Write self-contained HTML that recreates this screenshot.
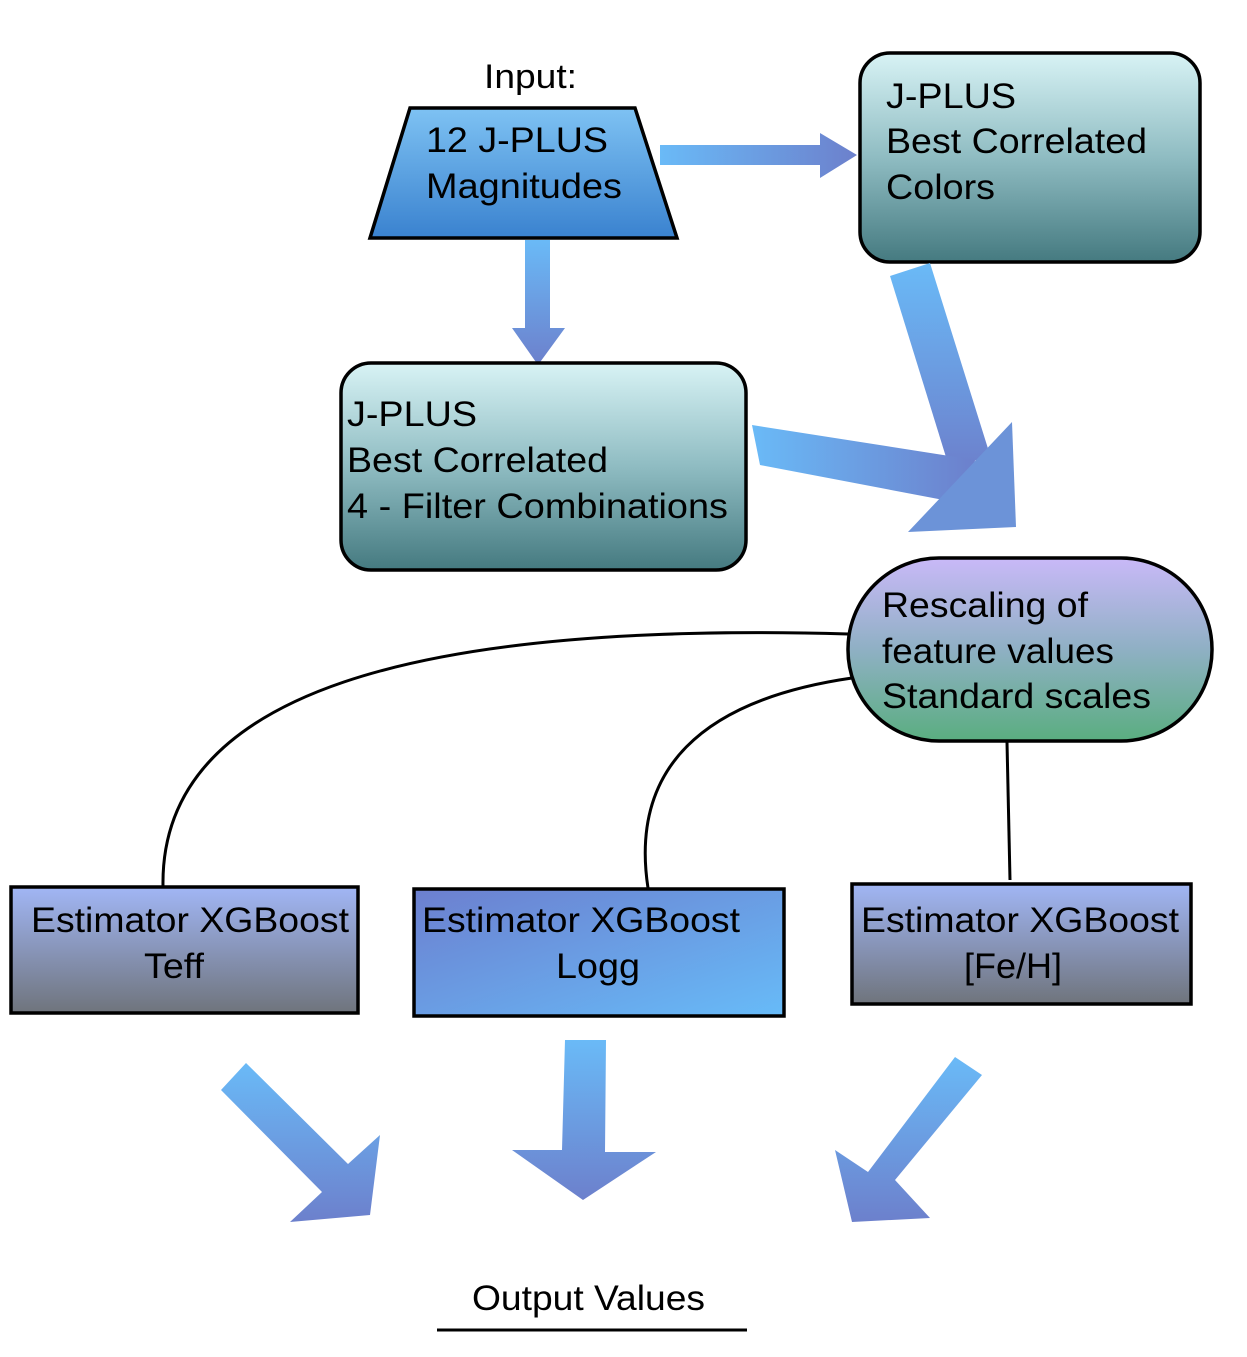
<!DOCTYPE html>
<html><head><style>body{margin:0;background:#fff}svg{display:block}text{font-family:"Liberation Sans",sans-serif;fill:#000}</style></head>
<body>
<svg width="1247" height="1357" viewBox="0 0 1247 1357" xmlns="http://www.w3.org/2000/svg">
<defs>
<linearGradient id="tr" x1="0" y1="0" x2="0" y2="1"><stop offset="0" stop-color="#7ec2f3"/><stop offset="1" stop-color="#3a82cf"/></linearGradient>
<linearGradient id="teal" x1="0" y1="0" x2="0" y2="1"><stop offset="0" stop-color="#d8f3f5"/><stop offset="0.5" stop-color="#8fbcc2"/><stop offset="1" stop-color="#457a80"/></linearGradient>
<linearGradient id="oval" x1="0" y1="0" x2="0" y2="1"><stop offset="0" stop-color="#c9b9f8"/><stop offset="0.5" stop-color="#8fb0c4"/><stop offset="1" stop-color="#5aae80"/></linearGradient>
<linearGradient id="gb" x1="0" y1="0" x2="0" y2="1"><stop offset="0" stop-color="#a1b6f5"/><stop offset="1" stop-color="#6f747c"/></linearGradient>
<linearGradient id="mb" x1="0" y1="0" x2="1" y2="1"><stop offset="0" stop-color="#6c7fcf"/><stop offset="1" stop-color="#67bbf8"/></linearGradient>
<linearGradient id="av" x1="0" y1="0" x2="0" y2="1"><stop offset="0" stop-color="#6abaf7"/><stop offset="1" stop-color="#6c80cc"/></linearGradient>
<linearGradient id="ah" x1="0" y1="0" x2="1" y2="0"><stop offset="0" stop-color="#6abaf7"/><stop offset="1" stop-color="#6c80cc"/></linearGradient>
</defs>
<text x="484" y="88" font-size="34" textLength="93" lengthAdjust="spacingAndGlyphs">Input:</text>
<polygon points="410,108 635,108 677,238 370,238" fill="url(#tr)" stroke="#000" stroke-width="3.5"/>
<text x="426" y="152" font-size="35" textLength="182" lengthAdjust="spacingAndGlyphs">12 J-PLUS</text>
<text x="426" y="198" font-size="35" textLength="196" lengthAdjust="spacingAndGlyphs">Magnitudes</text>
<polygon points="660,145 820,145 820,133 857,155 820,178 820,165 660,165" fill="url(#ah)"/>
<polygon points="525,240 550,240 550,328 565,328 538,365 512,328 525,328" fill="url(#av)"/>
<rect x="860" y="53" width="340" height="209" rx="30" fill="url(#teal)" stroke="#000" stroke-width="3.5"/>
<text x="886" y="108" font-size="35" textLength="130" lengthAdjust="spacingAndGlyphs">J-PLUS</text>
<text x="886" y="153" font-size="35" textLength="261" lengthAdjust="spacingAndGlyphs">Best Correlated</text>
<text x="886" y="199" font-size="35" textLength="109" lengthAdjust="spacingAndGlyphs">Colors</text>
<rect x="341" y="363" width="405" height="207" rx="30" fill="url(#teal)" stroke="#000" stroke-width="3.5"/>
<text x="347" y="426" font-size="35" textLength="130" lengthAdjust="spacingAndGlyphs">J-PLUS</text>
<text x="347" y="472" font-size="35" textLength="261" lengthAdjust="spacingAndGlyphs">Best Correlated</text>
<text x="347" y="518" font-size="35" textLength="381" lengthAdjust="spacingAndGlyphs">4 - Filter Combinations</text>
<polygon points="890,276 930,263 990,455 950,470" fill="url(#av)"/>
<polygon points="752,425 760,465 970,505 975,460" fill="url(#ah)"/>
<polygon points="908,532 1012,422 1016,527" fill="#6c93d8"/>
<rect x="848" y="558" width="364" height="183" rx="91" fill="url(#oval)" stroke="#000" stroke-width="3.5"/>
<text x="882" y="617" font-size="35" textLength="206" lengthAdjust="spacingAndGlyphs">Rescaling of</text>
<text x="882" y="663" font-size="35" textLength="232" lengthAdjust="spacingAndGlyphs">feature values</text>
<text x="882" y="708" font-size="35" textLength="269" lengthAdjust="spacingAndGlyphs">Standard scales</text>
<path d="M848,634 C 420,622 160,690 163,886" fill="none" stroke="#000" stroke-width="3"/>
<path d="M852,678 C 700,700 630,770 648,888" fill="none" stroke="#000" stroke-width="3"/>
<line x1="1007" y1="742" x2="1010" y2="880" stroke="#000" stroke-width="3"/>
<rect x="11" y="887" width="347" height="126" fill="url(#gb)" stroke="#000" stroke-width="3.5"/>
<text x="190" y="932" font-size="35" text-anchor="middle" textLength="318" lengthAdjust="spacingAndGlyphs">Estimator XGBoost</text>
<text x="174" y="978" font-size="35" text-anchor="middle" textLength="60" lengthAdjust="spacingAndGlyphs">Teff</text>
<rect x="414" y="889" width="370" height="127" fill="url(#mb)" stroke="#000" stroke-width="3.5"/>
<text x="581" y="932" font-size="35" text-anchor="middle" textLength="318" lengthAdjust="spacingAndGlyphs">Estimator XGBoost</text>
<text x="598" y="978" font-size="35" text-anchor="middle" textLength="84" lengthAdjust="spacingAndGlyphs">Logg</text>
<rect x="852" y="884" width="339" height="120" fill="url(#gb)" stroke="#000" stroke-width="3.5"/>
<text x="1020" y="932" font-size="35" text-anchor="middle" textLength="318" lengthAdjust="spacingAndGlyphs">Estimator XGBoost</text>
<text x="1013" y="978" font-size="35" text-anchor="middle" textLength="98" lengthAdjust="spacingAndGlyphs">[Fe/H]</text>
<polygon points="221,1090 246,1063 348,1164 380,1135 370,1215 290,1222 322,1192" fill="url(#av)"/>
<polygon points="565,1040 606,1040 605,1152 656,1152 583,1200 512,1150 562,1150" fill="url(#av)"/>
<polygon points="955,1057 982,1075 895,1180 930,1218 852,1222 835,1150 868,1172" fill="url(#av)"/>
<text x="472" y="1310" font-size="35" textLength="233" lengthAdjust="spacingAndGlyphs">Output Values</text>
<line x1="437" y1="1330" x2="747" y2="1330" stroke="#000" stroke-width="3"/>
</svg>
</body></html>
